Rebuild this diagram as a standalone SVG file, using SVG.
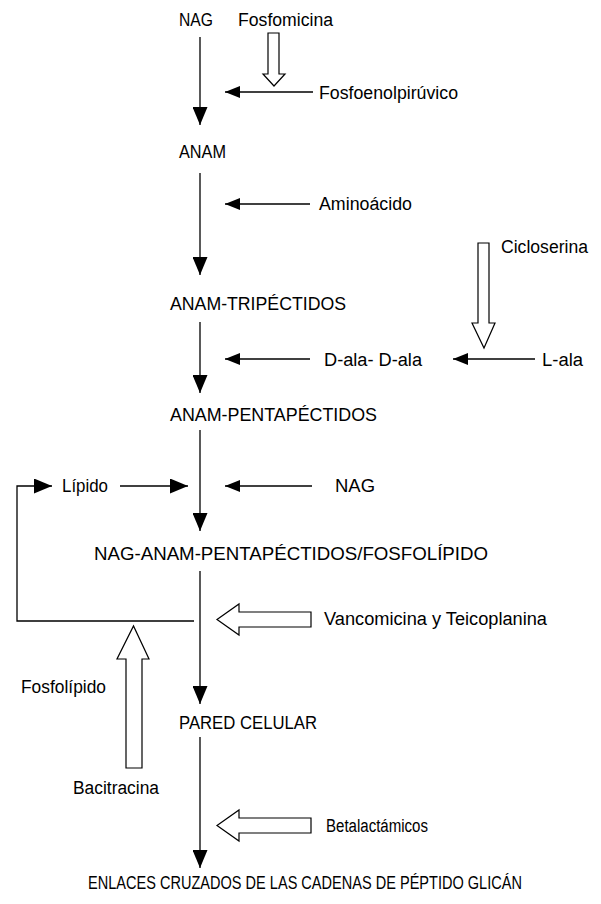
<svg xmlns="http://www.w3.org/2000/svg" width="601" height="904" viewBox="0 0 601 904">
<style>
text{font-family:"Liberation Sans",Arial,sans-serif;font-size:18px;fill:#000}
.ln{stroke:#000;stroke-width:1.3;fill:none}
.hollow{stroke:#000;stroke-width:1.2;fill:#fff}
</style>
<defs>
<marker id="big" markerUnits="userSpaceOnUse" markerWidth="18" markerHeight="15" refX="18" refY="7.5" orient="auto"><path d="M0,0 L18,7.5 L0,15 z" fill="#000"/></marker>
<marker id="sm" markerUnits="userSpaceOnUse" markerWidth="15" markerHeight="12" refX="15" refY="6" orient="auto"><path d="M0,0 L15,6 L0,12 z" fill="#000"/></marker>
</defs>
<rect width="601" height="904" fill="#fff"/>
<g id="connectors">
<line class="ln" x1="200" y1="37" x2="200" y2="125" marker-end="url(#big)"/>
<line class="ln" x1="313" y1="92" x2="225" y2="92" marker-end="url(#sm)"/>
<line class="ln" x1="200" y1="173" x2="200" y2="275" marker-end="url(#big)"/>
<line class="ln" x1="310" y1="204" x2="225" y2="204" marker-end="url(#sm)"/>
<line class="ln" x1="200" y1="322" x2="200" y2="393" marker-end="url(#big)"/>
<line class="ln" x1="310" y1="359" x2="225" y2="359" marker-end="url(#sm)"/>
<line class="ln" x1="535" y1="359" x2="453" y2="359" marker-end="url(#sm)"/>
<line class="ln" x1="200" y1="430" x2="200" y2="531" marker-end="url(#big)"/>
<line class="ln" x1="120" y1="486" x2="188" y2="486" marker-end="url(#big)"/>
<line class="ln" x1="312" y1="486" x2="225" y2="486" marker-end="url(#sm)"/>
<polyline class="ln" points="194,621 17,621 17,486 52,486" marker-end="url(#big)"/>
<line class="ln" x1="200" y1="571" x2="200" y2="704" marker-end="url(#big)"/>
<line class="ln" x1="200" y1="737" x2="200" y2="868" marker-end="url(#big)"/>
<polygon class="hollow" points="268,33 279,33 279,74 285,74 274,86 263,74 268,74"/>
<polygon class="hollow" points="478,243 489,243 489,323 495,323 484,348 472,323 478,323"/>
<polygon class="hollow" points="311,612 239,612 239,604 217,619.5 239,635 239,627 311,627"/>
<polygon class="hollow" points="126,768 126,659 117,659 133.5,626 149,659 142,659 142,768"/>
<polygon class="hollow" points="311,818 239,818 239,810 217,825.5 239,841 239,833 311,833"/>
</g>
<g id="n-nag"><text x="179" y="26" textLength="34" lengthAdjust="spacingAndGlyphs">NAG</text></g>
<g id="n-fosfomicina"><text x="238" y="26" textLength="95" lengthAdjust="spacingAndGlyphs">Fosfomicina</text></g>
<g id="n-fosfoenol"><text x="319" y="99" textLength="139" lengthAdjust="spacingAndGlyphs">Fosfoenolpirúvico</text></g>
<g id="n-anam"><text x="179" y="158" textLength="47" lengthAdjust="spacingAndGlyphs">ANAM</text></g>
<g id="n-aminoacido"><text x="319" y="210" textLength="93" lengthAdjust="spacingAndGlyphs">Aminoácido</text></g>
<g id="n-cicloserina"><text x="501" y="253" textLength="87" lengthAdjust="spacingAndGlyphs">Cicloserina</text></g>
<g id="n-tripeptidos"><text x="170" y="310" textLength="176" lengthAdjust="spacingAndGlyphs">ANAM-TRIPÉCTIDOS</text></g>
<g id="n-dala"><text x="324" y="366" textLength="98" lengthAdjust="spacingAndGlyphs">D-ala- D-ala</text></g>
<g id="n-lala"><text x="542" y="366" textLength="41" lengthAdjust="spacingAndGlyphs">L-ala</text></g>
<g id="n-pentapeptidos"><text x="170" y="421" textLength="207" lengthAdjust="spacingAndGlyphs">ANAM-PENTAPÉCTIDOS</text></g>
<g id="n-lipido"><text x="62" y="492" textLength="46" lengthAdjust="spacingAndGlyphs">Lípido</text></g>
<g id="n-nag2"><text x="335" y="492" textLength="40" lengthAdjust="spacingAndGlyphs">NAG</text></g>
<g id="n-fosfolipido-complex"><text x="291" y="560" text-anchor="middle" textLength="394" lengthAdjust="spacingAndGlyphs">NAG-ANAM-PENTAPÉCTIDOS/FOSFOLÍPIDO</text></g>
<g id="n-vancomicina"><text x="324" y="625" textLength="223" lengthAdjust="spacingAndGlyphs">Vancomicina y Teicoplanina</text></g>
<g id="n-fosfolipido"><text x="21" y="693" textLength="85" lengthAdjust="spacingAndGlyphs">Fosfolípido</text></g>
<g id="n-pared"><text x="179" y="729" textLength="138" lengthAdjust="spacingAndGlyphs">PARED CELULAR</text></g>
<g id="n-bacitracina"><text x="73" y="794" textLength="86" lengthAdjust="spacingAndGlyphs">Bacitracina</text></g>
<g id="n-betalactamicos"><text x="326" y="832" textLength="102" lengthAdjust="spacingAndGlyphs">Betalactámicos</text></g>
<g id="n-enlaces"><text transform="translate(305,889) scale(0.808,1)" x="0" y="0" text-anchor="middle">ENLACES CRUZADOS DE LAS CADENAS DE PÉPTIDO GLICÁN</text></g>
</svg>
